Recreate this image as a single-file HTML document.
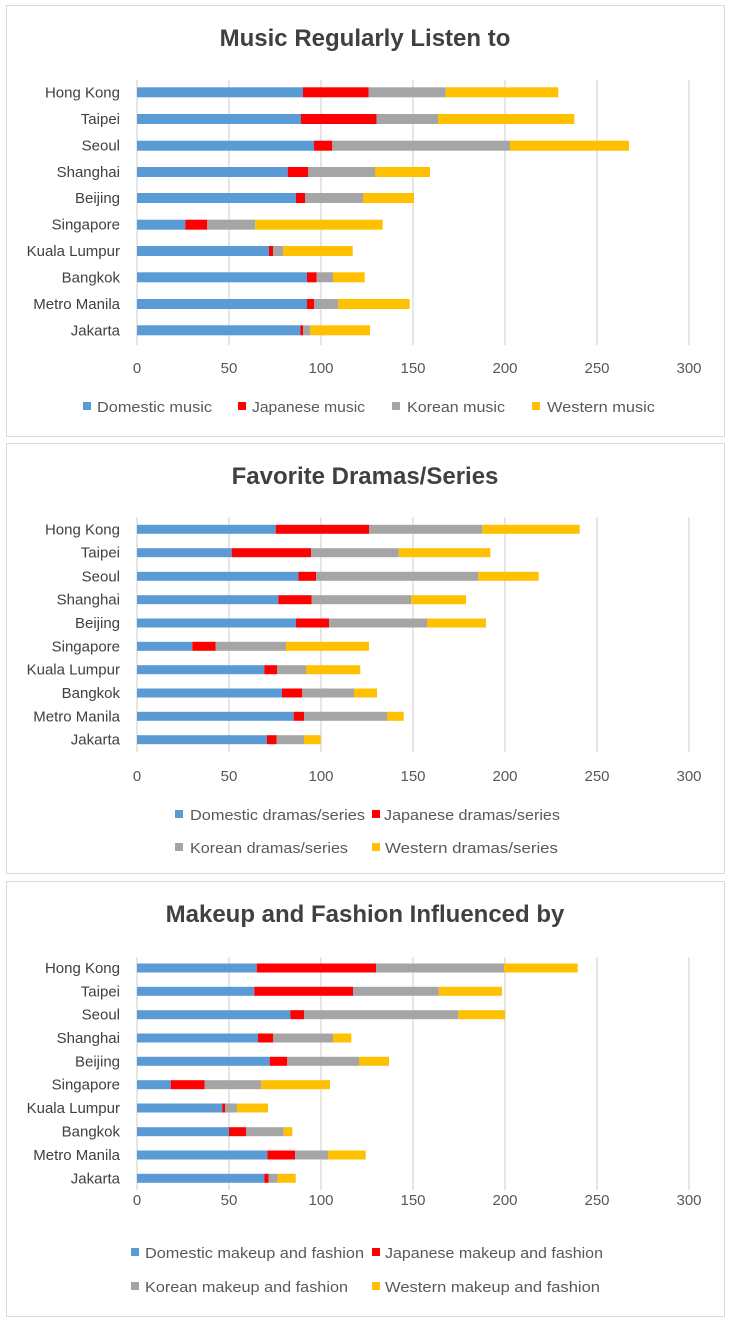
<!DOCTYPE html>
<html><head><meta charset="utf-8"><style>
html,body{margin:0;padding:0;background:#fff;}
svg text{font-family:"Liberation Sans",sans-serif;}
</style></head><body>
<svg id="s" width="730" height="1322" xmlns="http://www.w3.org/2000/svg"></svg>
<script>
const C=['#5b9bd5','#ff0000','#a5a5a5','#ffc000'];
const cities=['Hong Kong','Taipei','Seoul','Shanghai','Beijing','Singapore','Kuala Lumpur','Bangkok','Metro Manila','Jakarta'];
const charts=[
{box:[6,5,718,431],title:'Music Regularly Listen to',ty:46,gy:[80,345],rows:[92.3,119,145.7,172,198,224.7,251,277.3,304,330.3],h:10,tick:373,
data:[[303,368.7,445.7,558.3],[301,376.7,438,574.3],[314,332.3,510,629],[287.7,308.3,375,430],[296,305,363,414],[185.3,207.3,255.3,382.7],[269,273,283.3,352.7],[307,316.7,333,364.7],[307,314,338,409.7],[300.3,303,310.3,370]],
leg:[[83,407,'Domestic music',0,115,97],[238,407,'Japanese music',1,113,252],[392,407,'Korean music',2,98,407],[532,407,'Western music',3,108,547]]},
{box:[6,443,718,430],title:'Favorite Dramas/Series',ty:484,gy:[517,752],rows:[529.3,552.7,576.3,599.7,623,646.3,669.7,693,716.3,739.7],h:9,tick:781,
data:[[275.7,369,482.3,579.7],[231.7,311,398.7,490.3],[298.3,316,478.3,538.7],[278.3,311.7,411.3,466],[296,329,427,486],[192.3,215.7,286,369],[264.3,277,306,360.3],[282,302.3,354,377],[293.7,304,387,403.7],[267,276.7,304,320.7]],
leg:[[175,815,'Domestic dramas/series',0,175,190],[372,815,'Japanese dramas/series',1,176,384],[175,848,'Korean dramas/series',2,158,190],[372,848,'Western dramas/series',3,173,385]]},
{box:[6,881,718,435],title:'Makeup and Fashion Influenced by',ty:922,gy:[957,1190],rows:[968,991.3,1014.7,1038,1061.3,1084.7,1108,1131.7,1155,1178.3],h:9,tick:1205,
data:[[256.7,376,504,577.7],[254.3,353,438.7,502],[290.3,304,458.3,505],[258,273,333,351.3],[269.7,287.3,359,389],[170.7,204.7,261.3,330],[222.3,225,237,268],[229,246,283.7,292.3],[267.3,295,328,365.7],[264.3,268.7,277.7,295.7]],
leg:[[131,1253,'Domestic makeup and fashion',0,219,145],[372,1253,'Japanese makeup and fashion',1,218,385],[131,1287,'Korean makeup and fashion',2,203,145],[372,1287,'Western makeup and fashion',3,215,385]]}
];
let o='';
for(const c of charts){
 const [bx,by,bw,bh]=c.box;
 o+=`<rect x="${bx+.5}" y="${by+.5}" width="${bw}" height="${bh}" fill="#fff" stroke="#d9d9d9"/>`;
 o+=`<text x="365" y="${c.ty}" text-anchor="middle" font-size="24" font-weight="bold" fill="#404040">${c.title}</text>`;
 for(let i=0;i<=6;i++){const x=137+i*92;
  if(i>0)o+=`<line x1="${x}" y1="${c.gy[0]}" x2="${x}" y2="${c.gy[1]}" stroke="#d9d9d9" stroke-width="1.3"/>`;
  o+=`<text x="${x}" y="${c.tick}" text-anchor="middle" font-size="15" fill="#595959">${i*50}</text>`;}
 o+=`<line x1="137" y1="${c.gy[0]}" x2="137" y2="${c.gy[1]}" stroke="#d9d9d9" stroke-width="1.3"/>`;
 c.rows.forEach((y,r)=>{
  o+=`<text x="120" y="${y+5}" text-anchor="end" font-size="15" fill="#404040">${cities[r]}</text>`;
  let p=137;
  c.data[r].forEach((e,k)=>{o+=`<rect x="${p}" y="${y-c.h/2}" width="${Math.max(e-p,0)}" height="${c.h}" fill="${C[k]}"/>`;p=e;});
 });
 for(const [x,y,t,k,w,tx] of c.leg){
  o+=`<rect x="${x}" y="${y-5}" width="8" height="8" fill="${C[k]}"/>`;
  o+=`<text x="${tx}" y="${y+5}" font-size="15" fill="#595959" textLength="${w}" lengthAdjust="spacingAndGlyphs">${t}</text>`;
 }
}
document.getElementById('s').innerHTML=o;
</script>
</body></html>
